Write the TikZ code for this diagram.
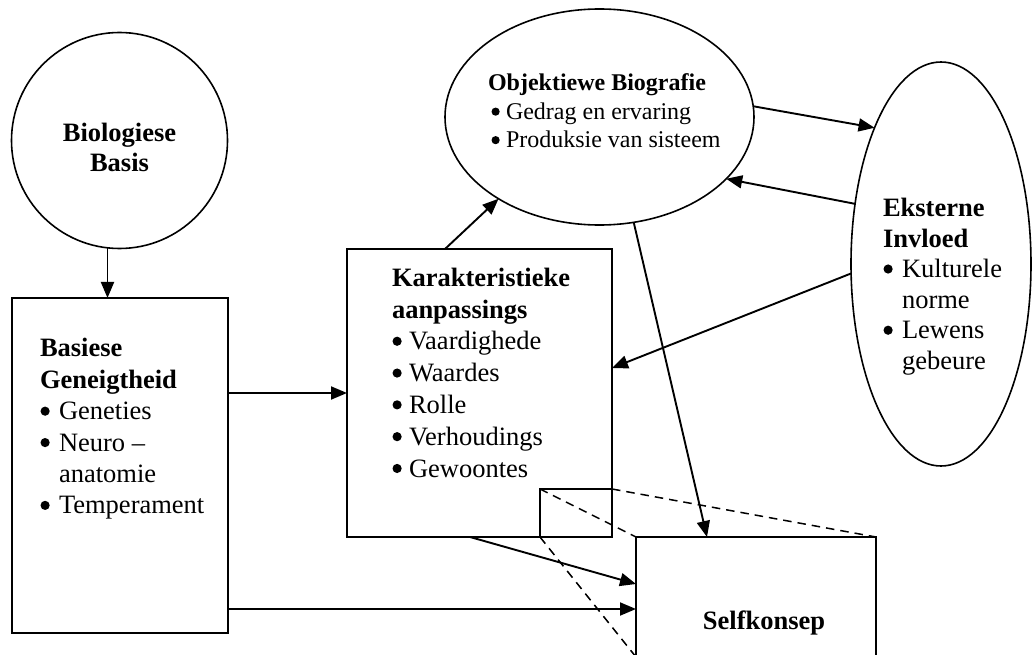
\documentclass[tikz,border=0pt]{standalone}
\usepackage{fontspec}
\setmainfont{Liberation Serif}
\usetikzlibrary{arrows.meta,shapes.geometric}
\newcommand{\bdot}[2]{\tikz[baseline=-#2]\fill[black] (0,0) circle[radius=#1];}
\newcommand{\myb}[2][17pt]{\makebox[#1][l]{\hspace*{0.5pt}\bdot{4.6pt}{8.6pt}}#2}
\newcommand{\mybs}[2][17pt]{\makebox[#1][l]{\hspace*{3.5pt}\bdot{4.1pt}{7.8pt}}#2}
\newcommand{\myi}[2][17pt]{\hspace*{#1}#2}
\tikzset{
 frame/.style={draw=black, line width=1.9pt, inner sep=0pt, outer sep=0pt},
 oval/.style={draw=black, line width=1.6pt, inner sep=0pt, outer sep=0pt},
 arr/.style={line width=1.9pt, -{Triangle[length=16pt,width=13pt]}},
 dsh/.style={line width=1.5pt, dash pattern=on 8.5pt off 6pt},
 txt/.style={inner sep=0pt, outer sep=0pt, align=left, anchor=north west},
}
\begin{document}
\begin{tikzpicture}[x=1pt,y=-1pt]
\useasboundingbox (0,0) rectangle (1034,655);
\fill[white] (0,0) rectangle (1034,655);
\clip (0,0) rectangle (1034,655);

% shapes
\node[oval, circle, minimum size=216pt] (bio) at (119.5,140.5) {};
\node[frame, rectangle, minimum width=216pt, minimum height=335pt] (bas) at (120,465.5) {};
\node[frame, rectangle, minimum width=265pt, minimum height=288pt] (kar) at (479.5,393) {};
\node[oval, ellipse, minimum width=309pt, minimum height=216pt] (obj) at (599.5,117) {};
\node[oval, ellipse, minimum width=180pt, minimum height=404pt] (eks) at (941,264) {};
\node[frame, rectangle, minimum width=240pt, minimum height=120pt] (self) at (756,597) {};
\node[frame, rectangle, minimum width=72pt, minimum height=48pt] (zm) at (576,513) {};

% texts
\node[txt, align=center, anchor=north, font=\fontsize{26.5}{30}\selectfont] (biot) at (119.5,121)
  {\strut\textbf{Biologiese}\\\strut\textbf{Basis}};
\node[txt, font=\fontsize{26.5}{31.4}\selectfont] (bast) at (40,335)
  {\strut\textbf{Basiese}\\\strut\textbf{Geneigtheid}\\\strut\myb[19pt]{Geneties}\\\strut\myb[19pt]{Neuro –}\\\strut\myi[19pt]{anatomie}\\\strut\myb[19pt]{Temperament}};
\node[txt, font=\fontsize{26.5}{31.8}\selectfont] (kart) at (392,264)
  {\strut\textbf{Karakteristieke}\\\strut\textbf{aanpassings}\\\strut\myb{Vaardighede}\\\strut\myb{Waardes}\\\strut\myb{Rolle}\\\strut\myb{Verhoudings}\\\strut\myb{Gewoontes}};
\node[txt, font=\fontsize{26.5}{30.6}\selectfont] (ekst) at (883,195)
  {\strut\textbf{Eksterne}\\\strut\textbf{Invloed}\\\strut\myb[19pt]{Kulturele}\\\strut\myi[19pt]{norme}\\\strut\myb[19pt]{Lewens}\\\strut\myi[19pt]{gebeure}};
\node[txt, font=\fontsize{24}{28.5}\selectfont] (objt) at (488,71)
  {\strut\textbf{Objektiewe Biografie}\\\strut\mybs[18pt]{Gedrag en ervaring}\\\strut\mybs[18pt]{Produksie van sisteem}};
\node[txt, anchor=north, font=\fontsize{26.5}{31.5}\selectfont] (selft) at (764,607)
  {\strut\textbf{Selfkonsep}};

% connectors
\coordinate (b1) at ([xshift=-12.5pt]bas.north);
\draw[arr] (bio.south -| b1) -- (b1);
\draw[arr] (bas.east |- kar.west) -- (kar.west);
\coordinate (s2) at ([yshift=-12pt]self.west);
\draw[arr] (bas.east |- s2) -- (s2);
\draw[arr] ([xshift=-9.5pt]kar.south) -- ([yshift=13pt]self.west);
\draw[arr] ([xshift=-34.5pt]kar.north) -- (obj.219);
\draw[arr] (obj.-72) -- ([xshift=-49pt]self.north);
\draw[arr] (obj.4) -- (eks.116);
\draw[arr] (eks.145) -- (obj.-26);
\draw[arr] (eks.186) -- ([yshift=25pt]kar.east);
\draw[dsh] (zm.north west) -- (self.north west);
\draw[dsh] (zm.north east) -- (self.north east);
\draw[dsh] (zm.south west) -- (self.south west);
\end{tikzpicture}
\end{document}
